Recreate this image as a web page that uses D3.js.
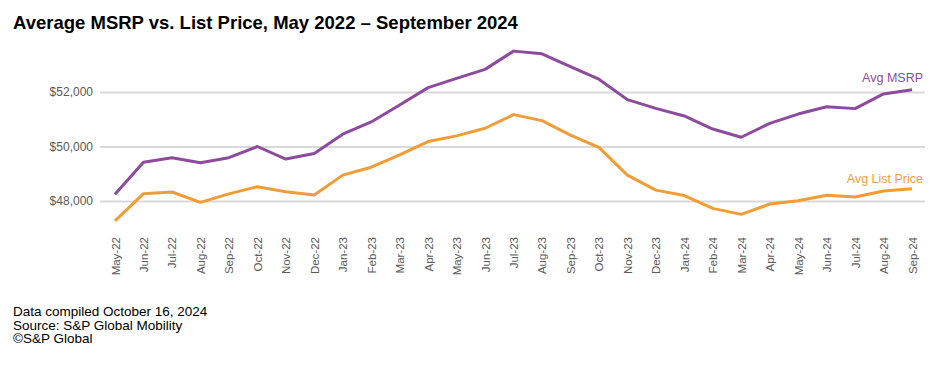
<!DOCTYPE html>
<html><head><meta charset="utf-8">
<script src="https://cdn.jsdelivr.net/npm/d3@7"></script>
<style>body{margin:0;background:#fff;}svg{display:block;font-family:Arial,"Liberation Sans",sans-serif;}</style>
</head><body><svg id="c" width="936" height="366"></svg>
<script>
const months = ["May-22","Jun-22","Jul-22","Aug-22","Sep-22","Oct-22","Nov-22","Dec-22","Jan-23","Feb-23","Mar-23","Apr-23","May-23","Jun-23","Jul-23","Aug-23","Sep-23","Oct-23","Nov-23","Dec-23","Jan-24","Feb-24","Mar-24","Apr-24","May-24","Jun-24","Jul-24","Aug-24","Sep-24"];
const msrp = [48250,49420,49590,49400,49590,50000,49540,49740,50450,50900,51520,52160,52500,52830,53500,53400,52930,52470,51720,51400,51120,50640,50340,50850,51190,51460,51390,51930,52085];
const listPrice = [47270,48270,48330,47950,48260,48525,48340,48220,48950,49240,49690,50180,50390,50670,51170,50950,50420,49970,48950,48400,48200,47730,47510,47890,48010,48210,48150,48370,48450];
const yTicks = [48000,50000,52000];
const seriesNames = ["Avg MSRP","Avg List Price"];
const colors = ["#8c4b9d","#f39c35"];
const footer = ["Data compiled October 16, 2024","Source: S&P Global Mobility","\u00A9S&P Global"];
const title = "Average MSRP vs. List Price, May 2022 \u2013 September 2024";

const svg = d3.select("#c");
const x = d3.scalePoint().domain(months).range([115,912]);
const y = d3.scaleLinear().domain([48000,52000]).range([201,92]);

svg.append("text").attr("x",13).attr("y",29).attr("font-size",18.5).attr("font-weight","bold").attr("fill","#000").text(title);

// grid
const ga = svg.append("g").attr("transform","translate(100,0)")
  .call(d3.axisLeft(y).tickValues(yTicks).tickSize(-825).tickFormat(d=>"$"+d3.format(",")(d)));
ga.select(".domain").remove();
ga.selectAll(".tick line").attr("stroke","#d9d9d9").attr("stroke-width",2);
ga.selectAll(".tick text").attr("x",-7).attr("fill","#595959").attr("font-size",12).attr("font-family","Arial, 'Liberation Sans', sans-serif");

// x axis
const xa = svg.append("g").attr("transform","translate(0,233)")
  .call(d3.axisBottom(x).tickSize(0));
xa.select(".domain").remove();
xa.selectAll(".tick text").attr("transform","rotate(-90)").attr("text-anchor","end")
  .attr("x",-4).attr("y",0).attr("dy","0.35em").attr("fill","#595959").attr("font-size",11.5).attr("font-family","Arial, 'Liberation Sans', sans-serif");

const line = d3.line().x((d,i)=>x(months[i])).y(d=>y(d));
[msrp,listPrice].forEach((s,k)=>{
  svg.append("path").datum(s).attr("d",line).attr("fill","none").attr("stroke",colors[k]).attr("stroke-width",3).attr("stroke-linejoin","round");
});
svg.append("text").attr("x",923).attr("y",y(msrp[msrp.length-1])-8).attr("text-anchor","end").attr("font-size",12.5).attr("fill",colors[0]).text(seriesNames[0]);
svg.append("text").attr("x",923).attr("y",y(listPrice[listPrice.length-1])-6).attr("text-anchor","end").attr("font-size",12.5).attr("fill",colors[1]).text(seriesNames[1]);

footer.forEach((t,i)=>{
  svg.append("text").attr("x",13).attr("y",316+i*13.7).attr("font-size",13.5).attr("fill","#000").text(t);
});
</script></body></html>
